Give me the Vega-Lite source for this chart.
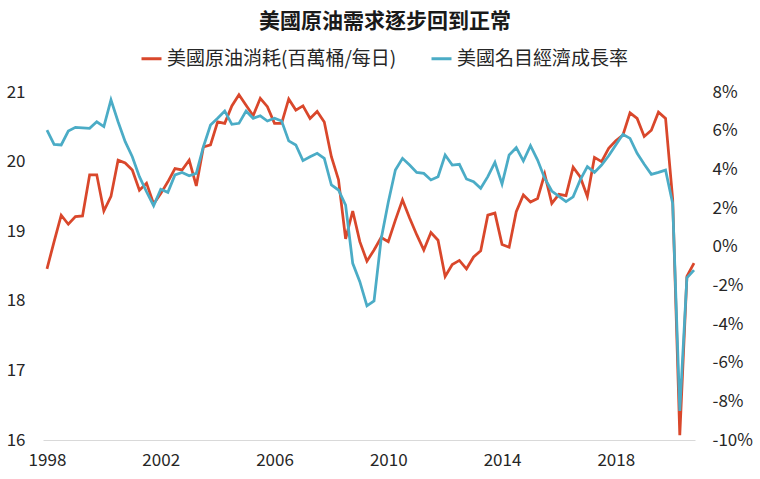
{
  "$schema": "https://vega.github.io/schema/vega-lite/v6.json",
  "width": 652,
  "height": 348,
  "autosize": {"type": "none"},
  "padding": {"left": 43, "top": 92, "right": 65, "bottom": 39},
  "background": "white",
  "config": {
    "font": "Noto Sans CJK TC",
    "view": {"stroke": null},
    "axis": {"grid": false, "ticks": false, "labelFont": "Noto Sans CJK TC", "labelFontSize": 17, "labelColor": "#262626", "title": null}
  },
  "title": {"text": "美國原油需求逐步回到正常", "fontSize": 21, "fontWeight": 600, "color": "#1a1a1a", "anchor": "middle", "frame": "group", "baseline": "top", "offset": 15, "dx": 16},
  "data": {"values": [
    {"t": 1998.00, "oil": 18.46, "gdp": 6.03},
    {"t": 1998.25, "oil": 18.85, "gdp": 5.29},
    {"t": 1998.50, "oil": 19.23, "gdp": 5.26},
    {"t": 1998.75, "oil": 19.10, "gdp": 5.98},
    {"t": 1999.00, "oil": 19.21, "gdp": 6.17},
    {"t": 1999.25, "oil": 19.22, "gdp": 6.15},
    {"t": 1999.50, "oil": 19.81, "gdp": 6.12},
    {"t": 1999.75, "oil": 19.81, "gdp": 6.46},
    {"t": 2000.00, "oil": 19.29, "gdp": 6.21},
    {"t": 2000.25, "oil": 19.50, "gdp": 7.59},
    {"t": 2000.50, "oil": 20.02, "gdp": 6.46},
    {"t": 2000.75, "oil": 19.98, "gdp": 5.43},
    {"t": 2001.00, "oil": 19.88, "gdp": 4.65},
    {"t": 2001.25, "oil": 19.59, "gdp": 3.62},
    {"t": 2001.50, "oil": 19.69, "gdp": 2.84},
    {"t": 2001.75, "oil": 19.39, "gdp": 2.12},
    {"t": 2002.00, "oil": 19.54, "gdp": 2.97},
    {"t": 2002.25, "oil": 19.71, "gdp": 2.81},
    {"t": 2002.50, "oil": 19.90, "gdp": 3.71},
    {"t": 2002.75, "oil": 19.88, "gdp": 3.84},
    {"t": 2003.00, "oil": 20.02, "gdp": 3.67},
    {"t": 2003.25, "oil": 19.65, "gdp": 3.79},
    {"t": 2003.50, "oil": 20.21, "gdp": 5.17},
    {"t": 2003.75, "oil": 20.24, "gdp": 6.29},
    {"t": 2004.00, "oil": 20.57, "gdp": 6.64},
    {"t": 2004.25, "oil": 20.55, "gdp": 7.02},
    {"t": 2004.50, "oil": 20.80, "gdp": 6.33},
    {"t": 2004.75, "oil": 20.96, "gdp": 6.38},
    {"t": 2005.00, "oil": 20.81, "gdp": 7.02},
    {"t": 2005.25, "oil": 20.66, "gdp": 6.64},
    {"t": 2005.50, "oil": 20.91, "gdp": 6.77},
    {"t": 2005.75, "oil": 20.79, "gdp": 6.50},
    {"t": 2006.00, "oil": 20.55, "gdp": 6.64},
    {"t": 2006.25, "oil": 20.55, "gdp": 6.50},
    {"t": 2006.50, "oil": 20.90, "gdp": 5.47},
    {"t": 2006.75, "oil": 20.74, "gdp": 5.26},
    {"t": 2007.00, "oil": 20.80, "gdp": 4.45},
    {"t": 2007.25, "oil": 20.62, "gdp": 4.65},
    {"t": 2007.50, "oil": 20.72, "gdp": 4.83},
    {"t": 2007.75, "oil": 20.57, "gdp": 4.57},
    {"t": 2008.00, "oil": 20.07, "gdp": 3.19},
    {"t": 2008.25, "oil": 19.74, "gdp": 2.93},
    {"t": 2008.50, "oil": 18.89, "gdp": 2.15},
    {"t": 2008.75, "oil": 19.29, "gdp": -0.86},
    {"t": 2009.00, "oil": 18.85, "gdp": -1.81},
    {"t": 2009.25, "oil": 18.57, "gdp": -3.06},
    {"t": 2009.50, "oil": 18.73, "gdp": -2.81},
    {"t": 2009.75, "oil": 18.91, "gdp": 0.40},
    {"t": 2010.00, "oil": 18.85, "gdp": 2.30},
    {"t": 2010.25, "oil": 19.16, "gdp": 3.97},
    {"t": 2010.50, "oil": 19.45, "gdp": 4.57},
    {"t": 2010.75, "oil": 19.19, "gdp": 4.22},
    {"t": 2011.00, "oil": 18.95, "gdp": 3.84},
    {"t": 2011.25, "oil": 18.73, "gdp": 3.79},
    {"t": 2011.50, "oil": 18.98, "gdp": 3.45},
    {"t": 2011.75, "oil": 18.87, "gdp": 3.62},
    {"t": 2012.00, "oil": 18.35, "gdp": 4.74},
    {"t": 2012.25, "oil": 18.52, "gdp": 4.22},
    {"t": 2012.50, "oil": 18.58, "gdp": 4.26},
    {"t": 2012.75, "oil": 18.46, "gdp": 3.50},
    {"t": 2013.00, "oil": 18.63, "gdp": 3.36},
    {"t": 2013.25, "oil": 18.72, "gdp": 3.02},
    {"t": 2013.50, "oil": 19.23, "gdp": 3.62},
    {"t": 2013.75, "oil": 19.26, "gdp": 4.36},
    {"t": 2014.00, "oil": 18.81, "gdp": 3.24},
    {"t": 2014.25, "oil": 18.77, "gdp": 4.74},
    {"t": 2014.50, "oil": 19.28, "gdp": 5.12},
    {"t": 2014.75, "oil": 19.52, "gdp": 4.43},
    {"t": 2015.00, "oil": 19.42, "gdp": 5.22},
    {"t": 2015.25, "oil": 19.47, "gdp": 4.48},
    {"t": 2015.50, "oil": 19.82, "gdp": 3.54},
    {"t": 2015.75, "oil": 19.40, "gdp": 2.88},
    {"t": 2016.00, "oil": 19.53, "gdp": 2.60},
    {"t": 2016.25, "oil": 19.51, "gdp": 2.33},
    {"t": 2016.50, "oil": 19.92, "gdp": 2.58},
    {"t": 2016.75, "oil": 19.78, "gdp": 3.45},
    {"t": 2017.00, "oil": 19.50, "gdp": 4.14},
    {"t": 2017.25, "oil": 20.06, "gdp": 3.84},
    {"t": 2017.50, "oil": 20.00, "gdp": 4.22},
    {"t": 2017.75, "oil": 20.19, "gdp": 4.70},
    {"t": 2018.00, "oil": 20.30, "gdp": 5.26},
    {"t": 2018.25, "oil": 20.38, "gdp": 5.81},
    {"t": 2018.50, "oil": 20.70, "gdp": 5.60},
    {"t": 2018.75, "oil": 20.62, "gdp": 4.83},
    {"t": 2019.00, "oil": 20.36, "gdp": 4.26},
    {"t": 2019.25, "oil": 20.45, "gdp": 3.74},
    {"t": 2019.50, "oil": 20.71, "gdp": 3.84},
    {"t": 2019.75, "oil": 20.62, "gdp": 3.96},
    {"t": 2020.00, "oil": 19.46, "gdp": 2.24},
    {"t": 2020.25, "oil": 16.07, "gdp": -8.50},
    {"t": 2020.50, "oil": 18.35, "gdp": -1.61},
    {"t": 2020.75, "oil": 18.54, "gdp": -1.21}
  ]},
  "layer": [
    {
      "mark": {"type": "line", "strokeWidth": 2.75},
      "encoding": {
        "x": {"field": "t", "type": "quantitative", "scale": {"domain": [1997.86, 2020.785], "nice": false, "zero": false},
              "axis": {"values": [1998, 2002, 2006, 2010, 2014, 2018], "format": "d", "domainColor": "#d9d9d9", "domainWidth": 1, "labelPadding": 12, "labelFlush": false}},
        "y": {"field": "oil", "type": "quantitative", "scale": {"domain": [16, 21], "nice": false, "zero": false},
              "axis": {"orient": "left", "domain": false, "values": [16, 17, 18, 19, 20, 21], "labelPadding": 18}},
        "color": {"datum": "美國原油消耗(百萬桶/每日)", "type": "nominal",
                  "scale": {"domain": ["美國原油消耗(百萬桶/每日)", "美國名目經濟成長率"], "range": ["#D9472B", "#4BACC6"]},
                  "legend": {"orient": "none", "legendX": 97, "legendY": -45, "direction": "horizontal", "title": null,
                             "symbolType": "stroke", "symbolSize": 400, "symbolStrokeWidth": 3, "labelFontSize": 19,
                             "labelFont": "Noto Sans CJK TC", "labelColor": "#262626", "columnPadding": 28, "labelOffset": 4, "labelLimit": 400}}
      }
    },
    {
      "mark": {"type": "line", "strokeWidth": 2.75},
      "encoding": {
        "x": {"field": "t", "type": "quantitative"},
        "y": {"field": "gdp", "type": "quantitative", "scale": {"domain": [-10, 8], "nice": false, "zero": false},
              "axis": {"orient": "right", "domain": false, "values": [-10, -8, -6, -4, -2, 0, 2, 4, 6, 8], "labelExpr": "datum.value + '%'", "labelPadding": 17}},
        "color": {"datum": "美國名目經濟成長率", "type": "nominal"}
      }
    }
  ],
  "resolve": {"scale": {"y": "independent"}}
}
